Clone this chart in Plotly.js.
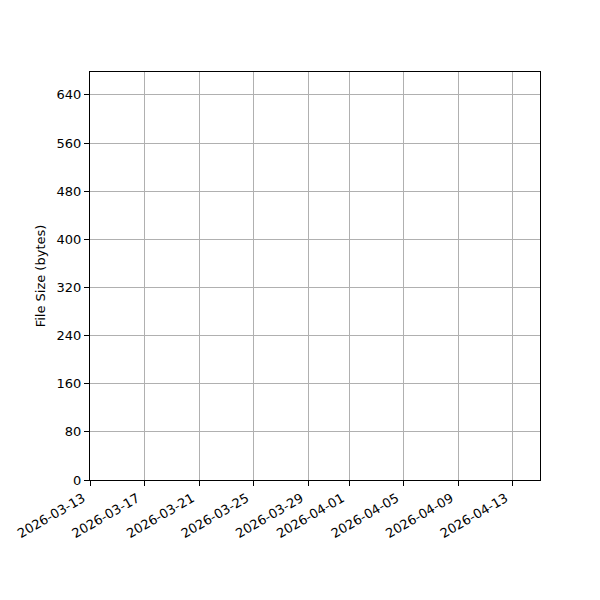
<!DOCTYPE html>
<html>
<head>
<meta charset="utf-8">
<script src="https://cdn.plot.ly/plotly-3.0.1.min.js"></script>
<style>
  html, body { margin: 0; padding: 0; background: #fff; }
  #chart { width: 600px; height: 600px; }
</style>
</head>
<body>
<div id="chart"></div>
<script>
// the reference plot has no points at all, only its axes
var dates = [];
var fileSizes = [];

var dateTicks = ['2026-03-13', '2026-03-17', '2026-03-21', '2026-03-25', '2026-03-29',
                 '2026-04-01', '2026-04-05', '2026-04-09', '2026-04-13'];
var sizeTicks = [0, 80, 160, 240, 320, 400, 480, 560, 640];

var trace = {
    x: dates,
    y: fileSizes,
    type: 'scatter',
    mode: 'lines+markers',
    line: {color: '#1f77b4'},
    showlegend: false
};

var layout = {
    width: 600,
    height: 600,
    margin: {l: 90, r: 60, t: 72, b: 120, pad: 0},
    paper_bgcolor: '#ffffff',
    plot_bgcolor: '#ffffff',
    font: {family: 'DejaVu Sans', size: 13, color: '#000'},
    xaxis: {
        type: 'date',
        range: ['2026-03-13', '2026-04-15'],
        tickvals: dateTicks,
        ticktext: dateTicks,
        tickangle: -30,
        ticklabelshift: -7,
        ticks: 'outside',
        ticklen: 5,
        tickcolor: '#000',
        showline: true,
        linecolor: '#000',
        linewidth: 1,
        mirror: true,
        showgrid: true,
        gridcolor: '#b0b0b0',
        gridwidth: 1,
        zeroline: false,
        tickfont: {size: 13}
    },
    yaxis: {
        range: [0, 678],
        tickvals: sizeTicks,
        ticks: 'outside',
        ticklen: 5,
        tickcolor: '#000',
        showline: true,
        linecolor: '#000',
        linewidth: 1,
        mirror: true,
        showgrid: true,
        gridcolor: '#b0b0b0',
        gridwidth: 1,
        zeroline: false,
        tickfont: {size: 13},
        title: {text: 'File Size (bytes)', font: {size: 13}, standoff: 8}
    }
};

Plotly.newPlot('chart', [trace], layout, {staticPlot: true});
</script>
</body>
</html>
